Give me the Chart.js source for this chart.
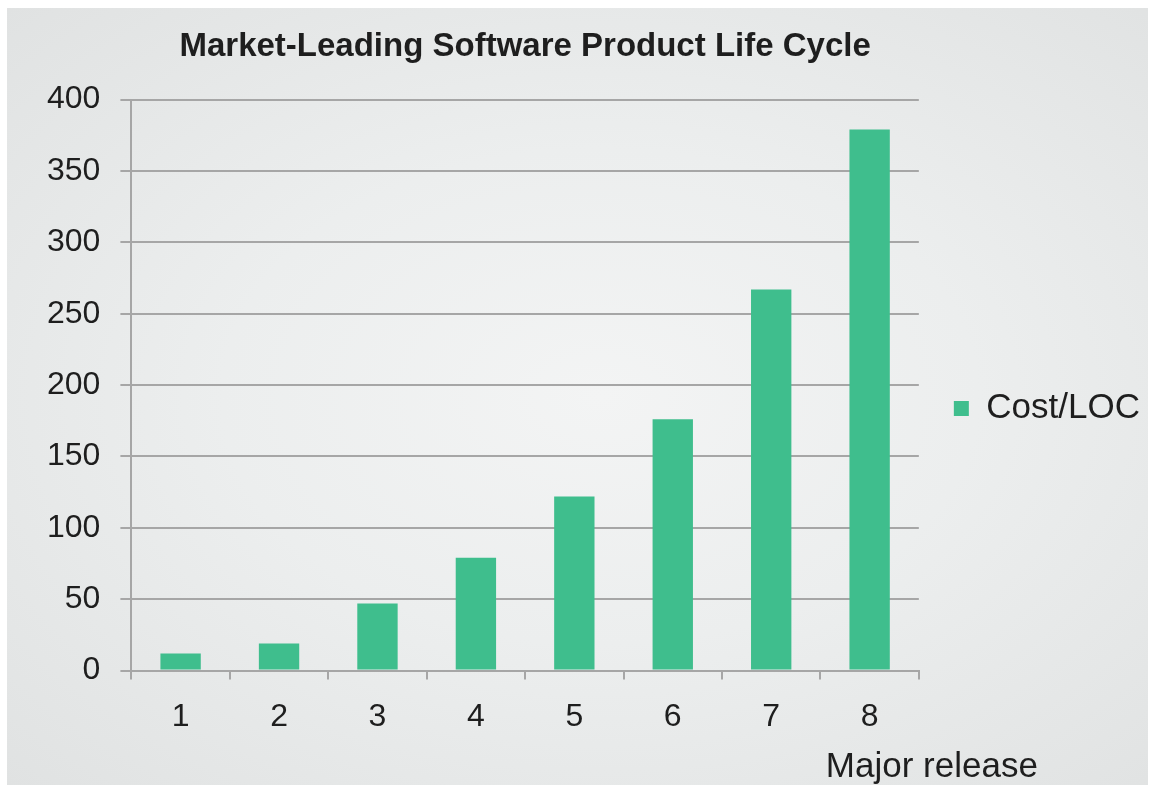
<!DOCTYPE html>
<html>
<head>
<meta charset="utf-8">
<script src="https://cdn.jsdelivr.net/npm/chart.js@4/dist/chart.umd.min.js"></script>
<style>
    html, body { margin: 0; padding: 0; background: #ffffff; }
    #wrap { position: relative; width: 1150px; height: 793px; }
    #panel {
        position: absolute; left: 7px; top: 8px; width: 1141px; height: 777px;
        background: radial-gradient(ellipse at 52% 50%, #f3f4f4 0%, #eceeee 45%, #e0e2e2 100%);
    }
    #chart { position: absolute; left: 0; top: 0; }
</style>
</head>
<body>
<div id="wrap">
    <div id="panel"></div>
    <canvas id="chart" width="1150" height="793"></canvas>
</div>
<script>
const releases = ['1', '2', '3', '4', '5', '6', '7', '8'];
const costPerLoc = [12, 19, 47, 79, 122, 176, 267, 379];
const yTicks = [0, 50, 100, 150, 200, 250, 300, 350, 400];

const chartTitle = 'Market-Leading Software Product Life Cycle';
const seriesName = 'Cost/LOC';
const xAxisTitle = 'Major release';

const barColor = '#3fbe8d';
const gridColor = '#a6a6a6';
const textColor = '#1e1e1e';

Chart.defaults.font.family = "'Liberation Sans', Arial, Helvetica, sans-serif";
Chart.defaults.color = textColor;

// x axis title sits to the right under the last category, so draw it by hand
const xTitlePlugin = {
    id: 'xTitle',
    afterDraw(chart) {
        const ctx = chart.ctx;
        const area = chart.chartArea;
        ctx.save();
        ctx.font = "35px 'Liberation Sans', Arial, sans-serif";
        ctx.fillStyle = textColor;
        ctx.textAlign = 'right';
        ctx.textBaseline = 'alphabetic';
        ctx.fillText(xAxisTitle, area.right + 119, area.bottom + 106);
        ctx.restore();
    }
};

const ctx = document.getElementById('chart').getContext('2d');
new Chart(ctx, {
    type: 'bar',
    data: {
        labels: releases,
        datasets: [{
            label: seriesName,
            data: costPerLoc,
            backgroundColor: barColor,
            borderWidth: 0,
            barPercentage: 0.41,
            categoryPercentage: 1.0
        }]
    },
    options: {
        responsive: false,
        animation: false,
        layout: {
            padding: { left: 27, right: 0, top: 0, bottom: 39 }
        },
        plugins: {
            title: {
                display: true,
                fullSize: false,
                text: chartTitle,
                color: textColor,
                font: { size: 33, weight: 'bold' },
                padding: { top: 27, bottom: 33 }
            },
            legend: {
                position: 'right',
                title: {
                    display: true,
                    text: ' ',
                    font: { size: 1 },
                    padding: { top: 0, bottom: 62 }
                },
                labels: {
                    boxWidth: 15,
                    boxHeight: 15,
                    padding: 35,
                    color: textColor,
                    font: { size: 35 }
                }
            },
            tooltip: { enabled: false }
        },
        scales: {
            x: {
                offset: true,
                grid: {
                    offset: true,
                    drawOnChartArea: false,
                    drawTicks: true,
                    tickLength: 9,
                    color: gridColor,
                    lineWidth: 2
                },
                border: { display: true, color: gridColor, width: 2 },
                ticks: {
                    padding: 18,
                    color: textColor,
                    font: { size: 32 }
                }
            },
            y: {
                min: 0,
                max: 400,
                afterBuildTicks(scale) {
                    scale.ticks = yTicks.map(v => ({ value: v }));
                },
                grid: {
                    color: gridColor,
                    lineWidth: 2,
                    tickLength: 11
                },
                border: { display: true, color: gridColor, width: 2 },
                ticks: {
                    padding: 20,
                    color: textColor,
                    font: { size: 32 }
                }
            }
        }
    },
    plugins: [xTitlePlugin]
});
</script>
</body>
</html>
